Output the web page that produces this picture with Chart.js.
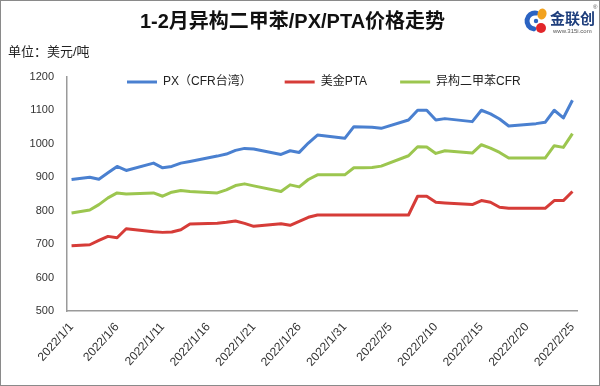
<!DOCTYPE html>
<html>
<head>
<meta charset="utf-8">
<script src="https://cdn.jsdelivr.net/npm/chart.js@4.4.1/dist/chart.umd.min.js"></script>
<style>
html,body{margin:0;padding:0;background:#fff;}
#wrap{position:relative;width:600px;height:386px;}
#frame{position:absolute;left:0;top:0;width:600px;height:386px;box-sizing:border-box;border:1px solid #8a8a8a;pointer-events:none;}
</style>
</head>
<body>
<div id="wrap"><canvas id="c" width="600" height="386"></canvas><div id="frame"></div></div>
<script>
// ---- data (null = no quote that day; line spans the gap) ----
const dates = [
 '2022/1/1','2022/1/2','2022/1/3','2022/1/4','2022/1/5','2022/1/6','2022/1/7','2022/1/8','2022/1/9','2022/1/10',
 '2022/1/11','2022/1/12','2022/1/13','2022/1/14','2022/1/15','2022/1/16','2022/1/17','2022/1/18','2022/1/19','2022/1/20',
 '2022/1/21','2022/1/22','2022/1/23','2022/1/24','2022/1/25','2022/1/26','2022/1/27','2022/1/28','2022/1/29','2022/1/30',
 '2022/1/31','2022/2/1','2022/2/2','2022/2/3','2022/2/4','2022/2/5','2022/2/6','2022/2/7','2022/2/8','2022/2/9',
 '2022/2/10','2022/2/11','2022/2/12','2022/2/13','2022/2/14','2022/2/15','2022/2/16','2022/2/17','2022/2/18','2022/2/19',
 '2022/2/20','2022/2/21','2022/2/22','2022/2/23','2022/2/24','2022/2/25'
];
const seriesNames = ['PX（CFR台湾）', '美金PTA', '异构二甲苯CFR'];
const pxCFR = [
 893,null,900,894,913,932,920,null,null,942,
 928,932,942,947,null,null,963,969,980,986,
 984,null,null,968,979,974,1002,1026,null,null,
 1016,1051,1050,1049,1046,null,null,1071,1100,1100,
 1071,1075,null,null,1066,1100,1089,1074,1053,null,
 null,1060,1064,1100,1077,1130
];
const ptaUSD = [
 695,null,698,711,723,719,746,null,null,737,
 735,736,743,760,null,null,762,765,769,762,
 753,null,null,761,756,768,780,787,null,null,
 787,787,787,787,787,null,null,787,843,843,
 825,823,null,null,818,830,825,810,807,null,
 null,807,807,830,830,857
];
const mxCFR = [
 793,null,802,818,838,853,850,null,null,853,
 843,855,860,857,null,null,853,862,875,880,
 874,null,null,857,877,871,893,907,null,null,
 907,928,928,929,933,null,null,964,991,990,
 971,979,null,null,972,997,987,974,957,null,
 null,957,957,994,989,1030
];
const yMin = 500, yMax = 1200, yStep = 100;
const labelEvery = 5;
const colors = ['#4A80D0', '#D63C38', '#9CC64F'];

Chart.defaults.font.family = "'Liberation Sans','Noto Sans CJK SC',sans-serif";

const legendShift = {
  id: 'legendShift',
  afterLayout(chart) {
    const L = chart.legend;
    if (!L) return;
    const pad = L.options.labels.padding;
    const w = L.right - L.left;
    L.left = 127 - pad; L.right = L.left + w;
    L.top = 82 - 6 - pad; L.bottom = L.top + pad + 30;
  }
};

const logo = {
  id: 'logo',
  afterDraw(chart) {
    const ctx = chart.ctx;
    ctx.save();
    ctx.lineCap = 'round';
    ctx.strokeStyle = '#2B63C2';
    ctx.lineWidth = 5;
    ctx.beginPath();
    ctx.arc(535, 21, 8, 0.55 * Math.PI, 1.55 * Math.PI);
    ctx.stroke();
    ctx.fillStyle = '#F2A21E';
    ctx.beginPath(); ctx.ellipse(542, 14, 4.5, 5.5, 0.3, 0, 2 * Math.PI); ctx.fill();
    ctx.fillStyle = '#E2262A';
    ctx.beginPath(); ctx.ellipse(541, 28, 5, 5, 0, 0, 2 * Math.PI); ctx.fill();
    ctx.fillStyle = '#2B63C2';
    ctx.beginPath(); ctx.arc(536, 21, 2.2, 0, 2 * Math.PI); ctx.fill();
    ctx.fillStyle = '#1E3E7C';
    ctx.textBaseline = 'middle';
    ctx.textAlign = 'left';
    ctx.font = "bold 15px 'Noto Sans CJK SC'";
    ctx.fillText('金联创', 550, 18);
    ctx.font = "6px 'Liberation Sans'";
    ctx.fillStyle = '#555';
    ctx.fillText('www.315i.com', 553, 31);
    ctx.fillText('®', 593, 7);
    ctx.restore();
  }
};

const axisColor = '#9A9A9A';
const tickColor = '#333333';

new Chart(document.getElementById('c'), {
  type: 'line',
  data: {
    labels: dates,
    datasets: [pxCFR, ptaUSD, mxCFR].map((d, i) => ({
      label: seriesNames[i],
      data: d,
      borderColor: colors[i],
      backgroundColor: colors[i],
      borderWidth: 3,
      pointRadius: 0,
      pointHoverRadius: 0,
      pointStyle: 'line',
      tension: 0,
      spanGaps: true,
      borderJoinStyle: 'round',
      fill: false
    }))
  },
  options: {
    responsive: false,
    animation: false,
    devicePixelRatio: 1,
    layout: { padding: { left: 8, right: 23, top: 0, bottom: 0 } },
    plugins: {
      title: {
        display: true,
        text: '1-2月异构二甲苯/PX/PTA价格走势',
        color: '#111',
        font: { size: 20, weight: 'bold' },
        padding: { top: 10, bottom: 0 }
      },
      subtitle: {
        display: true,
        text: '单位：美元/吨',
        align: 'start',
        color: '#222',
        font: { size: 13 },
        padding: { top: 10.2, bottom: 0 }
      },
      legend: {
        display: true,
        position: 'top',
        align: 'start',
        maxHeight: 17,
        labels: {
          usePointStyle: true,
          pointStyle: 'line',
          pointStyleWidth: 30,
          padding: 33,
          color: '#222',
          font: { size: 12 }
        }
      },
      tooltip: { enabled: false }
    },
    scales: {
      x: {
        type: 'category',
        offset: true,
        grid: { display: false, drawTicks: false },
        border: { display: true, color: axisColor, width: 1.5 },
        ticks: {
          autoSkip: false,
          minRotation: 48,
          maxRotation: 48,
          padding: 9,
          color: tickColor,
          font: { size: 12 },
          callback: (v, i) => (i % labelEvery === 0 ? dates[i] : null)
        },
        afterFit: (s) => { s.height = 75; }
      },
      y: {
        min: yMin,
        max: yMax,
        grid: { display: false, drawTicks: false },
        border: { display: true, color: axisColor, width: 1.5 },
        ticks: { stepSize: yStep, padding: 13, color: tickColor, font: { size: 11 },
                 callback: (v) => String(v) },
        afterFit: (s) => { s.width = 59; }
      }
    }
  },
  plugins: [legendShift, logo]
});
</script>
</body>
</html>
